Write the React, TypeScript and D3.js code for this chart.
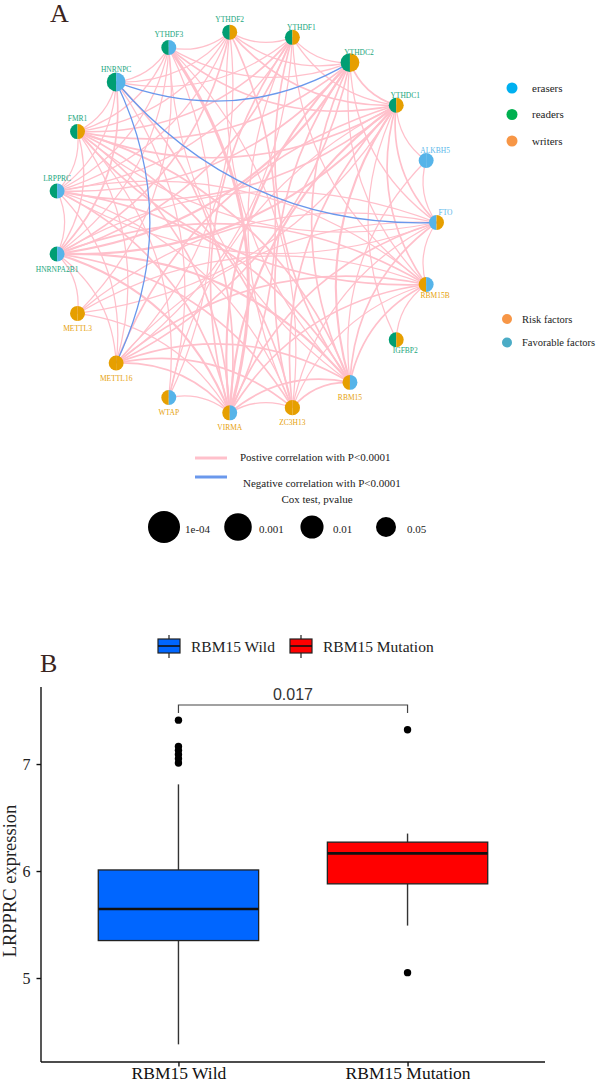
import * as d3 from 'd3';
import { useEffect, useRef } from 'react';

// network nodes, clockwise from FTO (3 o'clock)
const genes = ['FTO', 'RBM15B', 'IGFBP2', 'RBM15', 'ZC3H13', 'VIRMA', 'WTAP', 'METTL16', 'METTL3', 'HNRNPA2B1', 'LRPPRC', 'FMR1', 'HNRNPC', 'YTHDF3', 'YTHDF2', 'YTHDF1', 'YTHDC2', 'YTHDC1', 'ALKBH5'];
const geneClass = ['erasers', 'writers', 'readers', 'writers', 'writers', 'writers', 'writers', 'writers', 'writers', 'readers', 'readers', 'readers', 'readers', 'readers', 'readers', 'readers', 'readers', 'readers', 'erasers'];
const geneFactor = ['Risk', 'Favorable', 'Risk', 'Favorable', 'Risk', 'Favorable', 'Favorable', 'Risk', 'Risk', 'Favorable', 'Favorable', 'Risk', 'Favorable', 'Favorable', 'Risk', 'Risk', 'Risk', 'Risk', 'Favorable'];
const coxP = [0.03, 0.03, 0.03, 0.03, 0.02, 0.03, 0.03, 0.03, 0.03, 0.03, 0.03, 0.03, 0.0001, 0.03, 0.03, 0.03, 0.0001, 0.03, 0.03];

// positive correlations: [gene, gene, strength]
const posEdges: [string, string, number][] = [
	['FTO', 'ALKBH5', 1], ['FTO', 'YTHDC1', 1.5], ['FTO', 'YTHDC2', 1], ['FTO', 'RBM15B', 1], ['FTO', 'RBM15', 1.5], ['FTO', 'ZC3H13', 1],
	['FTO', 'VIRMA', 1.5], ['FTO', 'HNRNPA2B1', 1], ['FTO', 'FMR1', 1], ['FTO', 'LRPPRC', 1], ['FTO', 'METTL16', 1], ['FTO', 'METTL3', 1],
	['RBM15B', 'YTHDC1', 1.5], ['RBM15B', 'YTHDC2', 1], ['RBM15B', 'YTHDF1', 1], ['RBM15B', 'RBM15', 1.5], ['RBM15B', 'ZC3H13', 1],
	['RBM15B', 'VIRMA', 1.5], ['RBM15B', 'METTL16', 1.5], ['RBM15B', 'METTL3', 1], ['RBM15B', 'HNRNPA2B1', 1.5], ['RBM15B', 'LRPPRC', 1],
	['RBM15B', 'FMR1', 1.5], ['RBM15B', 'IGFBP2', 1],
	['IGFBP2', 'YTHDC1', 1],
	['RBM15', 'YTHDC1', 2], ['RBM15', 'YTHDC2', 1.5], ['RBM15', 'YTHDF1', 1.5], ['RBM15', 'YTHDF2', 1], ['RBM15', 'YTHDF3', 1],
	['RBM15', 'ZC3H13', 1.5], ['RBM15', 'VIRMA', 1.5], ['RBM15', 'METTL16', 1.5], ['RBM15', 'HNRNPA2B1', 2], ['RBM15', 'LRPPRC', 1.5],
	['RBM15', 'FMR1', 1.5], ['RBM15', 'ALKBH5', 1],
	['ZC3H13', 'YTHDC1', 1.5], ['ZC3H13', 'YTHDC2', 1.5], ['ZC3H13', 'YTHDF1', 1], ['ZC3H13', 'YTHDF3', 1], ['ZC3H13', 'VIRMA', 1],
	['ZC3H13', 'METTL16', 1.5], ['ZC3H13', 'HNRNPA2B1', 1.5], ['ZC3H13', 'LRPPRC', 1], ['ZC3H13', 'FMR1', 1.5],
	['VIRMA', 'YTHDF3', 3], ['VIRMA', 'YTHDF2', 1.5], ['VIRMA', 'YTHDF1', 1.5], ['VIRMA', 'YTHDC2', 2], ['VIRMA', 'YTHDC1', 2],
	['VIRMA', 'HNRNPC', 1.5], ['VIRMA', 'FMR1', 1.5], ['VIRMA', 'LRPPRC', 1.5], ['VIRMA', 'HNRNPA2B1', 2], ['VIRMA', 'METTL16', 1.5],
	['VIRMA', 'WTAP', 1], ['VIRMA', 'METTL3', 1],
	['WTAP', 'YTHDF3', 1], ['WTAP', 'FMR1', 1], ['WTAP', 'HNRNPC', 1], ['WTAP', 'YTHDC1', 1],
	['METTL16', 'YTHDC1', 1.5], ['METTL16', 'YTHDC2', 1.5], ['METTL16', 'YTHDF1', 1], ['METTL16', 'YTHDF2', 1], ['METTL16', 'LRPPRC', 1],
	['METTL16', 'FMR1', 1], ['METTL16', 'HNRNPA2B1', 1],
	['METTL3', 'HNRNPA2B1', 1], ['METTL3', 'YTHDF3', 1], ['METTL3', 'YTHDC1', 1],
	['HNRNPA2B1', 'YTHDC1', 2], ['HNRNPA2B1', 'YTHDC2', 2], ['HNRNPA2B1', 'YTHDF1', 1.5], ['HNRNPA2B1', 'YTHDF2', 1.5],
	['HNRNPA2B1', 'YTHDF3', 1], ['HNRNPA2B1', 'HNRNPC', 1.5], ['HNRNPA2B1', 'LRPPRC', 1], ['HNRNPA2B1', 'FMR1', 1],
	['LRPPRC', 'YTHDC1', 1.5], ['LRPPRC', 'YTHDC2', 1.5], ['LRPPRC', 'YTHDF1', 1], ['LRPPRC', 'YTHDF2', 1], ['LRPPRC', 'YTHDF3', 1],
	['LRPPRC', 'FMR1', 1], ['LRPPRC', 'HNRNPC', 1],
	['FMR1', 'YTHDC1', 1.5], ['FMR1', 'YTHDC2', 1.5], ['FMR1', 'YTHDF1', 1.5], ['FMR1', 'YTHDF2', 1], ['FMR1', 'YTHDF3', 1], ['FMR1', 'HNRNPC', 1],
	['HNRNPC', 'YTHDF3', 1], ['HNRNPC', 'YTHDF2', 1], ['HNRNPC', 'YTHDF1', 1],
	['YTHDF3', 'YTHDF2', 1], ['YTHDF3', 'YTHDC1', 1.5], ['YTHDF3', 'YTHDC2', 1],
	['YTHDF2', 'YTHDF1', 1], ['YTHDF2', 'YTHDC2', 1], ['YTHDF2', 'YTHDC1', 1.5],
	['YTHDF1', 'YTHDC2', 1], ['YTHDF1', 'YTHDC1', 1],
	['YTHDC2', 'YTHDC1', 1.5],
	['YTHDC1', 'ALKBH5', 1],
];
const negEdges: [string, string][] = [['HNRNPC', 'YTHDC2'], ['HNRNPC', 'FTO'], ['HNRNPC', 'METTL16']];

const classLegend = ['erasers', 'readers', 'writers'];
const factorLegend = ['Risk factors', 'Favorable factors'];
const pvalueLegend = [1e-4, 0.001, 0.01, 0.05];
const pvalueLegendLabels = ['1e-04', '0.001', '0.01', '0.05'];

// box plot
const groups = ['RBM15 Wild', 'RBM15 Mutation'];
// [lower whisker, Q1, median, Q3, upper whisker]
const wildStats = [4.38, 5.35, 5.645, 6.01, 6.81];
const mutationStats = [5.49, 5.88, 6.165, 6.27, 6.35];
const wildOutliers = [7.41, 7.165, 7.128, 7.09, 7.05, 7.01];
const mutationOutliers = [7.32, 5.05];
const yTicks = [5, 6, 7];
const pLabel = '0.017';

const nodeColor: Record<string, string> = { erasers: '#56B4E9', readers: '#009E73', writers: '#E69F00', Risk: '#E69F00', Favorable: '#56B4E9' };
const labelColor: Record<string, string> = { erasers: '#5BB8EA', readers: '#1AA67E', writers: '#E6A10A' };
const classLegendColor = ['#00B0F0', '#00B050', '#F79646'];
const factorLegendColor = ['#F79646', '#4BACC6'];
const boxColors = ['#0066FF', '#FF0000'];

const serif = '"Liberation Serif", "Times New Roman", serif';
const sans = '"Liberation Sans", Arial, sans-serif';

export default function App() {
	const yAxisRef = useRef<SVGGElement>(null);
	const xAxisRef = useRef<SVGGElement>(null);

	// network layout
	const cx = 245.5;
	const cy = 222.5;
	const R = 191;
	const angle = d3.scaleLinear().domain([0, genes.length]).range([0, 2 * Math.PI]);
	const pos = new Map(genes.map((g, i) => [g, { x: cx + R * Math.cos(angle(i)), y: cy + R * Math.sin(angle(i)), a: angle(i) }]));
	const nodeR = d3.scaleLinear().domain([-Math.log10(0.05), 4]).range([7.3, 9.4]);
	const legendR = d3.scaleLinear().domain([-Math.log10(0.05), 4]).range([10, 16]);
	const halfArc = d3.arc<{ r: number; s: number; e: number }>()
		.innerRadius(0)
		.outerRadius((d) => d.r)
		.startAngle((d) => d.s)
		.endAngle((d) => d.e);

	const edgePath = (a: string, b: string) => {
		const p = pos.get(a)!;
		const q = pos.get(b)!;
		const mx = (p.x + q.x) / 2;
		const my = (p.y + q.y) / 2;
		const L = Math.hypot(q.x - p.x, q.y - p.y);
		let nx = -(q.y - p.y) / L;
		let ny = (q.x - p.x) / L;
		if (nx * (cx - mx) + ny * (cy - my) < 0) {
			nx = -nx;
			ny = -ny;
		}
		const path = d3.path();
		path.moveTo(p.x, p.y);
		path.quadraticCurveTo(mx + nx * 0.24 * L, my + ny * 0.24 * L, q.x, q.y);
		return path.toString();
	};

	// box plot scales
	const x = d3.scalePoint<string>().domain(groups).range([41, 545]).padding(0.6);
	const y = d3.scaleLinear().domain([4.215, 7.72]).range([1062, 687]);
	const boxW = x.step() * 0.7;
	const stats = [wildStats, mutationStats];
	const outliers = [wildOutliers, mutationOutliers];
	const legendX = d3.scalePoint<string>().domain(pvalueLegendLabels).range([164, 386]);

	useEffect(() => {
		const ya = d3.select(yAxisRef.current!);
		ya.selectAll('*').remove();
		ya.call(d3.axisLeft(y).tickValues(yTicks).tickSize(4.5).tickPadding(6).tickFormat(d3.format('d')));
		ya.select('.domain').attr('d', `M0,${y.range()[1]}V${y.range()[0]}`).attr('stroke', '#111').attr('stroke-width', 1.4);
		ya.selectAll('.tick line').attr('stroke', '#111').attr('stroke-width', 1.4);
		ya.selectAll('.tick text').attr('font-family', serif).attr('font-size', 16).attr('fill', '#222');

		const xa = d3.select(xAxisRef.current!);
		xa.selectAll('*').remove();
		xa.call(d3.axisBottom(x).tickSize(4.5).tickPadding(1));
		xa.select('.domain').attr('d', `M${x.range()[0]},0H${x.range()[1]}`).attr('stroke', '#111').attr('stroke-width', 1.4);
		xa.selectAll('.tick line').attr('stroke', '#111').attr('stroke-width', 1.4);
		xa.selectAll('.tick text').attr('font-family', serif).attr('font-size', 17.5).attr('fill', '#111').attr('dy', '0.66em');
	}, []);

	return (
		<svg width={600} height={1084} style={{ position: 'absolute', left: 0, top: 0, background: '#fff' }}>
			<text x={50} y={22} fontFamily={serif} fontSize={26} fill="#3b2420">A</text>

			{/* edges */}
			<g fill="none">
				{posEdges.map(([a, b, w], i) => (
					<path key={i} d={edgePath(a, b)} stroke="#FFC0CB" strokeWidth={0.4 + w * 0.85} />
				))}
				{negEdges.map(([a, b], i) => (
					<path key={i} d={edgePath(a, b)} stroke="#6A98EC" strokeWidth={1.3} />
				))}
			</g>

			{/* nodes */}
			{genes.map((g, i) => {
				const p = pos.get(g)!;
				const r = nodeR(-Math.log10(coxP[i]));
				const c = Math.cos(p.a);
				const s = Math.sin(p.a);
				const upper = s < 0.01;
				let dx = 0;
				let dy = upper ? -13 : 15;
				if (upper && c > 0.2) { dx = 9; dy = -10; }
				if (!upper && c > 0.7) { dx = 9; dy = 11; }
				return (
					<g key={g} transform={`translate(${p.x},${p.y})`}>
						<path d={halfArc({ r, s: Math.PI, e: 2 * Math.PI })!} fill={nodeColor[geneClass[i]]} />
						<path d={halfArc({ r, s: 0, e: Math.PI })!} fill={nodeColor[geneFactor[i]]} />
						<text x={dx} y={dy} dy="0.35em" textAnchor="middle" fontFamily={serif} fontSize={7.5} fill={labelColor[geneClass[i]]}>{g}</text>
					</g>
				);
			})}

			{/* class legend */}
			{classLegend.map((l, i) => (
				<g key={l} transform={`translate(512,${88 + i * 26.5})`}>
					<circle r={5.5} fill={classLegendColor[i]} />
					<text x={20} dy="0.35em" fontFamily={serif} fontSize={11} fill="#222">{l}</text>
				</g>
			))}
			{factorLegend.map((l, i) => (
				<g key={l} transform={`translate(507,${319 + i * 23.5})`}>
					<circle r={5} fill={factorLegendColor[i]} />
					<text x={15} dy="0.35em" fontFamily={serif} fontSize={10.5} fill="#222">{l}</text>
				</g>
			))}

			{/* edge legend */}
			<line x1={195} x2={227} y1={458} y2={458} stroke="#FFC0CB" strokeWidth={3} />
			<text x={240} y={457} dy="0.35em" fontFamily={serif} fontSize={11} fill="#222">Postive correlation with P&lt;0.0001</text>
			<line x1={195} x2={227} y1={477} y2={477} stroke="#6A98EC" strokeWidth={3} />
			<text x={243} y={483} dy="0.35em" fontFamily={serif} fontSize={11} fill="#222">Negative correlation with P&lt;0.0001</text>
			<text x={317} y={499} dy="0.35em" textAnchor="middle" fontFamily={serif} fontSize={11} fill="#222">Cox test, pvalue</text>
			{pvalueLegend.map((p, i) => {
				const lx = legendX(pvalueLegendLabels[i])!;
				const r = legendR(-Math.log10(p));
				return (
					<g key={p}>
						<circle cx={lx} cy={527} r={r} fill="#000" />
						<text x={lx + 21} y={529} dy="0.35em" fontFamily={serif} fontSize={11} fill="#222">{pvalueLegendLabels[i]}</text>
					</g>
				);
			})}

			{/* panel B */}
			<text x={40} y={672} fontFamily={serif} fontSize={26} fill="#3b2420">B</text>

			{/* box legend */}
			{groups.map((g, i) => {
				const lx = [158, 290][i];
				return (
					<g key={g}>
						<line x1={lx + 11} x2={lx + 11} y1={635} y2={658} stroke="#222" strokeWidth={1.2} />
						<rect x={lx} y={639} width={22} height={14} fill={boxColors[i]} stroke="#222" strokeWidth={1.2} />
						<line x1={lx} x2={lx + 22} y1={646} y2={646} stroke="#111" strokeWidth={1.6} />
						<text x={lx + 33} y={647} dy="0.35em" fontFamily={serif} fontSize={15.5} fill="#222">{g}</text>
					</g>
				);
			})}

			{/* boxes */}
			{groups.map((g, i) => {
				const cxg = x(g)!;
				const [lw, q1, med, q3, uw] = stats[i];
				return (
					<g key={g}>
						<line x1={cxg} x2={cxg} y1={y(uw)} y2={y(q3)} stroke="#333" strokeWidth={1.4} />
						<line x1={cxg} x2={cxg} y1={y(q1)} y2={y(lw)} stroke="#333" strokeWidth={1.4} />
						<rect x={cxg - boxW / 2} y={y(q3)} width={boxW} height={y(q1) - y(q3)} fill={boxColors[i]} stroke="#222" strokeWidth={1.3} />
						<line x1={cxg - boxW / 2} x2={cxg + boxW / 2} y1={y(med)} y2={y(med)} stroke="#111" strokeWidth={2.6} />
						{outliers[i].map((o, k) => (
							<circle key={k} cx={cxg} cy={y(o)} r={3.7} fill="#000" />
						))}
					</g>
				);
			})}

			{/* significance bracket */}
			<path d={`M${x(groups[0])},713V705H${x(groups[1])}V713`} fill="none" stroke="#444" strokeWidth={1.2} />
			<text x={(x(groups[0])! + x(groups[1])!) / 2} y={700} textAnchor="middle" fontFamily={sans} fontSize={16} fill="#333">{pLabel}</text>

			<g ref={yAxisRef} transform="translate(41,0)" />
			<g ref={xAxisRef} transform="translate(0,1062)" />
			<text transform="translate(16,881) rotate(-90)" textAnchor="middle" fontFamily={serif} fontSize={18.5} fill="#222">LRPPRC expression</text>
		</svg>
	);
}
